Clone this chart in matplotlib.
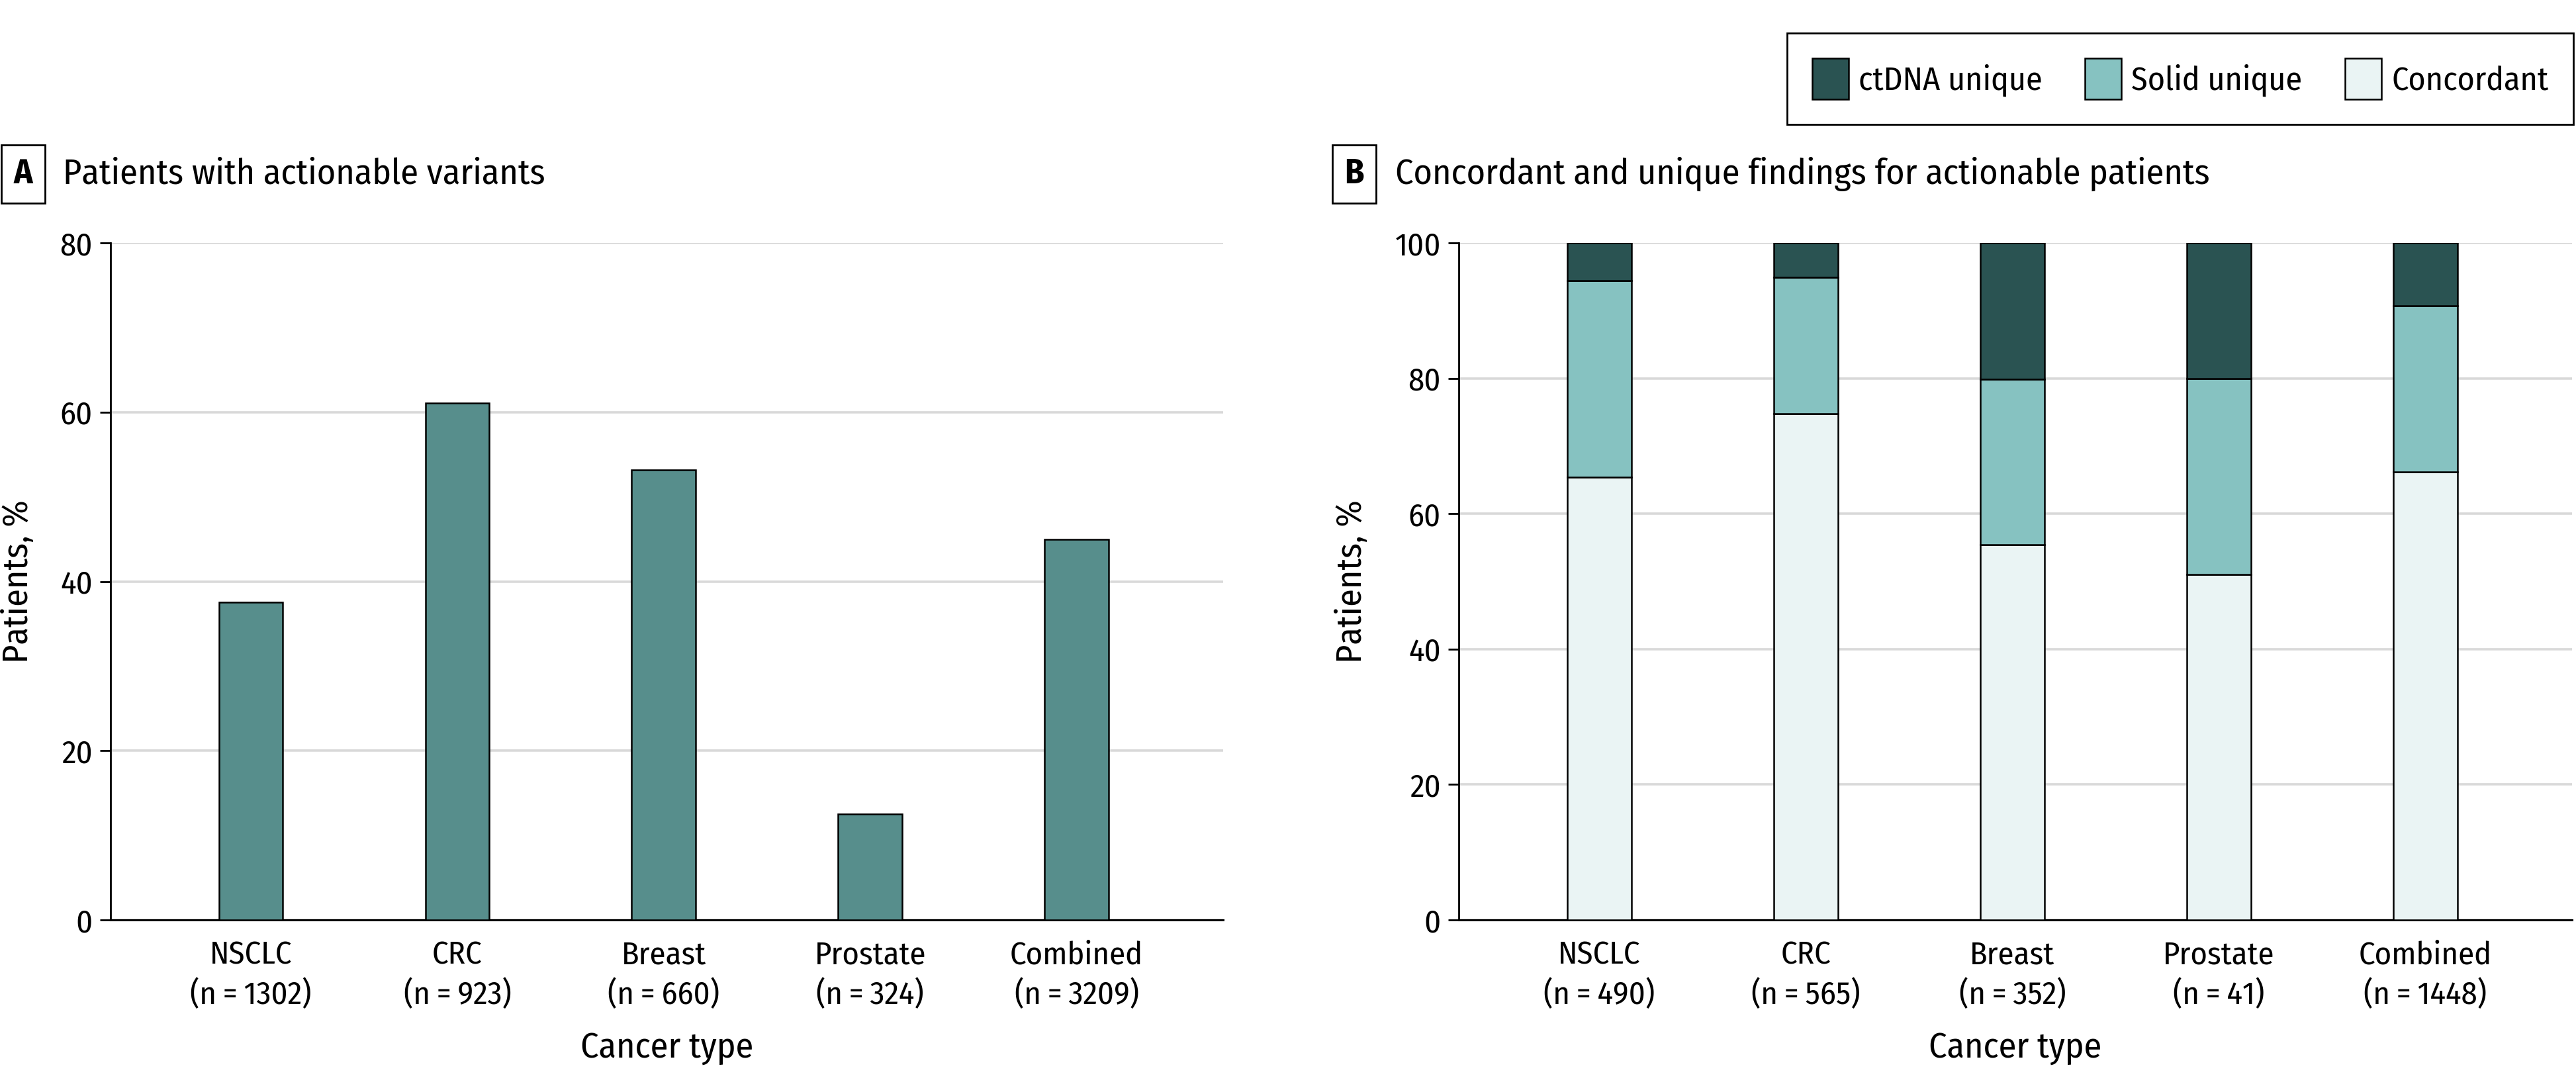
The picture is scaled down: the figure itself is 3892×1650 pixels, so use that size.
import matplotlib
matplotlib.use('Agg')
import matplotlib.pyplot as plt
from matplotlib import font_manager
from matplotlib.patches import Patch
import numpy as np

names = {f.name for f in font_manager.fontManager.ttflist}
for cand in ['Fira Sans Condensed', 'Liberation Sans Narrow', 'DejaVu Sans']:
    if cand in names:
        plt.rcParams['font.family'] = [cand, 'DejaVu Sans']
        break

# ---------------- data ----------------
categories = ['NSCLC', 'CRC', 'Breast', 'Prostate', 'Combined']
n_panel_a = [1302, 923, 660, 324, 3209]
actionable_pct = [37.5, 61.1, 53.2, 12.5, 45.0]

n_panel_b = [490, 565, 352, 41, 1448]
concordant = [65.4, 74.8, 55.4, 51.0, 66.2]
solid_unique = [29.0, 20.1, 24.5, 29.0, 24.5]
ctdna_unique = [5.6, 5.1, 20.1, 20.0, 9.3]

series_labels = ['ctDNA unique', 'Solid unique', 'Concordant']

# ---------------- style ----------------
C_A = '#578E8C'
C_CT = '#2A5352'
C_SOL = '#86C2C1'
C_CON = '#EAF4F4'
GRID = '#D9D9D9'

W, H = 3892, 1650
DPI = 200
fig = plt.figure(figsize=(W / DPI, H / DPI), dpi=DPI)

def px(x0, y0, x1, y1):
    return [x0 / W, 1 - y1 / H, (x1 - x0) / W, (y1 - y0) / H]

axA = fig.add_axes(px(167, 367, 1848, 1390))
axB = fig.add_axes(px(2204, 367, 3886, 1390))

TICK_FS = 17.5
LAB_FS = 19.5
BW = 0.31

def style(ax, ymax, step, ylab_x):
    ax.set_xlim(-0.68, 4.71)
    ax.set_ylim(0, ymax)
    ax.set_yticks(np.arange(0, ymax + 1, step))
    ax.yaxis.grid(True, color=GRID, linewidth=1.3)
    ax.set_axisbelow(True)
    for s in ['top', 'right']:
        ax.spines[s].set_visible(False)
    ax.spines['left'].set_linewidth(1.0)
    ax.spines['bottom'].set_linewidth(1.1)
    ax.tick_params(axis='y', length=5.8, width=1.0, pad=4, labelsize=TICK_FS)
    ax.tick_params(axis='x', length=0, pad=11, labelsize=TICK_FS)
    ax.set_ylabel('Patients, %', fontsize=LAB_FS)
    ax.yaxis.set_label_coords(ylab_x, 0.5)
    ax.yaxis.label.set_va('center')
    ax.set_xlabel('Cancer type', fontsize=LAB_FS)
    ax.xaxis.set_label_coords(0.5, -0.189)
    ax.xaxis.label.set_va('center')

x = np.arange(len(categories))

# Panel A
axA.bar(x, actionable_pct, width=BW, color=C_A, edgecolor='black', linewidth=0.9, zorder=3)
style(axA, 80, 20, -140 / 1681)
axA.set_xticks(x)
axA.set_xticklabels([f'{c}\n(n\u2009=\u2009{n})' for c, n in zip(categories, n_panel_a)],
                    linespacing=1.35)

# Panel B
axB.bar(x, concordant, width=BW, color=C_CON, edgecolor='black', linewidth=0.9, zorder=3)
axB.bar(x, solid_unique, width=BW, bottom=concordant, color=C_SOL, edgecolor='black',
        linewidth=0.9, zorder=3)
bott = [a + b for a, b in zip(concordant, solid_unique)]
axB.bar(x, ctdna_unique, width=BW, bottom=bott, color=C_CT, edgecolor='black',
        linewidth=0.9, zorder=3)
style(axB, 100, 20, -162 / 1682)
axB.set_xticks(x)
axB.set_xticklabels([f'{c}\n(n\u2009=\u2009{n})' for c, n in zip(categories, n_panel_b)],
                    linespacing=1.35)

# Panel titles
TY = 1 - 263 / H
TITLE_FS = 19.5
fig.text(35 / W, TY, 'A', fontsize=19, fontweight='bold', ha='center', va='center',
         bbox=dict(boxstyle='square,pad=0.35', facecolor='white', edgecolor='black', linewidth=1.0))
fig.text(95 / W, TY, 'Patients with actionable variants', fontsize=TITLE_FS, ha='left', va='center')
fig.text(2046 / W, TY, 'B', fontsize=19, fontweight='bold', ha='center', va='center',
         bbox=dict(boxstyle='square,pad=0.35', facecolor='white', edgecolor='black', linewidth=1.0))
fig.text(2108 / W, TY, 'Concordant and unique findings for actionable patients',
         fontsize=TITLE_FS, ha='left', va='center')

# Legend
handles = [Patch(facecolor=C_CT, edgecolor='black', linewidth=0.9),
           Patch(facecolor=C_SOL, edgecolor='black', linewidth=0.9),
           Patch(facecolor=C_CON, edgecolor='black', linewidth=0.9)]
leg = fig.legend(handles, series_labels, loc='upper right',
                 bbox_to_anchor=(3888 / W, 1 - 50 / H), ncol=3, fontsize=18,
                 frameon=True, fancybox=False, edgecolor='black', framealpha=1,
                 handlelength=1.1, handleheight=1.55, handletextpad=0.3,
                 columnspacing=1.3, borderpad=0.75, borderaxespad=0)
leg.get_frame().set_linewidth(1.0)

fig.savefig('out.png', dpi=DPI)
